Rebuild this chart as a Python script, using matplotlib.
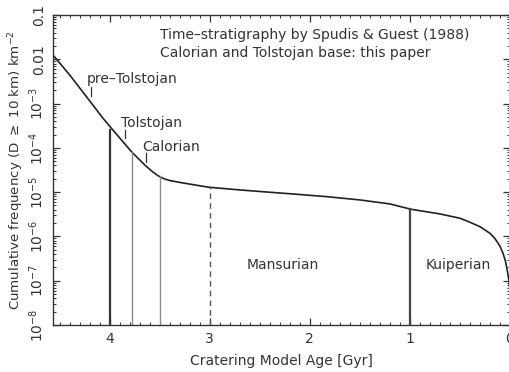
import matplotlib
matplotlib.use("Agg")
import matplotlib.pyplot as plt
import numpy as np
from matplotlib.ticker import MultipleLocator, LogLocator, NullFormatter

# cumulative crater frequency N(D>=10 km) vs model age
age = [4.567, 4.40, 4.233, 4.067, 3.983, 3.883, 3.783, 3.65, 3.58, 3.517,
       3.46, 3.40, 3.30, 3.20, 3.10, 3.01, 2.70, 2.40, 2.17, 1.83,
       1.50, 1.20, 0.99, 0.70, 0.50, 0.40, 0.30, 0.20, 0.15, 0.10,
       0.07, 0.045, 0.025, 0.01, 0.004]
log_n = [-1.903, -2.354, -2.844, -3.332, -3.558, -3.822, -4.086, -4.386, -4.525, -4.630,
         -4.695, -4.738, -4.780, -4.818, -4.856, -4.889, -4.950, -5.002, -5.041, -5.102,
         -5.176, -5.266, -5.386, -5.492, -5.589, -5.680, -5.779, -5.930, -6.050, -6.220,
         -6.380, -6.560, -6.800, -7.000, -7.150]
freq = [10**v for v in log_n]

# period boundaries: age, frequency at the curve, style
bound_age = [4.0, 3.78, 3.5, 3.0, 1.0]
bound_freq = [2.5e-4, 8.0e-5, 2.3e-5, 1.3e-5, 4.1e-6]
bound_color = ['#333333', '#8a8a8a', '#8a8a8a', '#555555', '#444444']
bound_lw = [1.6, 1.0, 1.0, 1.0, 1.6]
bound_ls = ['-', '-', '-', (0, (4, 3)), '-']

ytick_vals = [1e-1, 1e-2, 1e-3, 1e-4, 1e-5, 1e-6, 1e-7, 1e-8]
ytick_labels = ['0.1', '0.01', r'$10^{-3}$', r'$10^{-4}$', r'$10^{-5}$',
                r'$10^{-6}$', r'$10^{-7}$', r'$10^{-8}$']

txt = '#333333'
plt.rcParams['font.family'] = ['DejaVu Sans']
plt.rcParams['mathtext.fontset'] = 'dejavusans'

fig = plt.figure(figsize=(5.1, 3.72), dpi=100)
ax = fig.add_axes([0.1033, 0.1263, 0.8967, 0.8334])

ax.plot(age, freq, color='#222222', lw=1.2)
for a, f, c, w, s in zip(bound_age, bound_freq, bound_color, bound_lw, bound_ls):
    ax.plot([a, a], [1e-8, f], color=c, lw=w, linestyle=s)

ax.set_yscale('log')
ax.set_xlim(4.57, 0)
ax.set_ylim(1e-8, 0.1)

ax.xaxis.set_major_locator(MultipleLocator(1))
ax.xaxis.set_minor_locator(MultipleLocator(0.1))
ax.set_yticks(ytick_vals, ytick_labels, rotation=90, va='center')
ax.yaxis.set_minor_locator(LogLocator(base=10, subs=np.arange(2, 10)))
ax.yaxis.set_minor_formatter(NullFormatter())
ax.tick_params(which='both', direction='in', top=True, right=True,
               labelsize=10, labelcolor=txt, color='#333333')
ax.tick_params(which='major', length=5, width=0.9, pad=5)
ax.tick_params(which='minor', length=2.5, width=0.7)
for sp in ax.spines.values():
    sp.set_color('#333333')
    sp.set_linewidth(1.0)

ax.set_xlabel('Cratering Model Age [Gyr]', fontsize=10, color=txt, labelpad=6)
ax.set_ylabel(r'Cumulative frequency (D $\geq$ 10 km) km$^{-2}$', fontsize=9.6,
              color=txt, labelpad=1)

ax.text(3.5, 0.0354, 'Time\u2013stratigraphy by Spudis & Guest (1988)',
        fontsize=10, color=txt, va='center')
ax.text(3.5, 0.0137, 'Calorian and Tolstojan base: this paper',
        fontsize=10, color=txt, va='center')

# unit labels with short marker ticks
ax.text(4.23, 3.6e-3, 'pre\u2013Tolstojan', fontsize=10, color=txt, va='center')
ax.plot([4.19, 4.19], [1.48e-3, 2.37e-3], color='#333333', lw=0.9)
ax.text(3.89, 3.7e-4, 'Tolstojan', fontsize=10, color=txt, va='center')
ax.plot([3.85, 3.85], [1.67e-4, 2.5e-4], color='#333333', lw=0.9)
ax.text(3.67, 1.05e-4, 'Calorian', fontsize=10, color=txt, va='center')
ax.plot([3.64, 3.64], [4.8e-5, 7.7e-5], color='#333333', lw=0.9)

ax.text(2.27, 2.3e-7, 'Mansurian', fontsize=10, color=txt, ha='center', va='center')
ax.text(0.52, 2.3e-7, 'Kuiperian', fontsize=10, color=txt, ha='center', va='center')

fig.savefig('out.png', dpi=100)
